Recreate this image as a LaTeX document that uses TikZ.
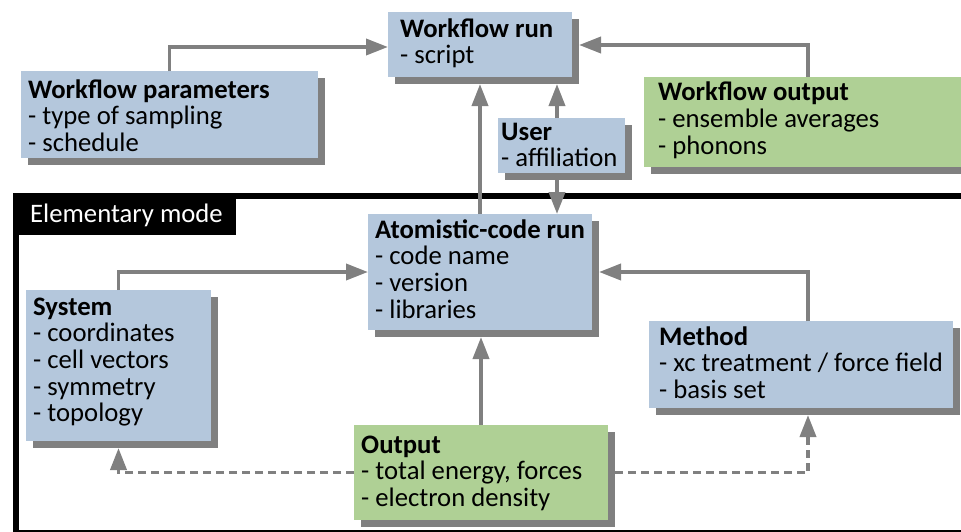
\documentclass[tikz,border=0pt]{standalone}
\usepackage{fontspec}
\setmainfont{Carlito}
\usetikzlibrary{arrows.meta,shadows}
\definecolor{boxblue}{HTML}{B4C7DC}
\definecolor{boxgreen}{HTML}{AFD095}
\definecolor{shgray}{HTML}{808080}
\definecolor{arrgray}{HTML}{808080}
\begin{document}
\begin{tikzpicture}[x=1pt,y=-1pt,
  box/.style={anchor=north west, inner sep=0pt, outer sep=0pt, draw=none, fill=boxblue,
    drop shadow={shadow xshift=7pt, shadow yshift=-7pt, fill=shgray, opacity=1}},
  gbox/.style={box, fill=boxgreen},
  txt/.style={anchor=base west, inner sep=0pt, align=left, font=\fontsize{26.7}{26.7}\selectfont},
  arr/.style={draw=arrgray, line width=3.7pt, -{Triangle[length=22pt,width=16pt]}},
  dsh/.style={arr, dash pattern=on 8pt off 5pt},
]
\useasboundingbox (0,0) rectangle (961,531);
\clip (0,0) rectangle (961,531);

% frame of elementary mode
\draw[line width=6pt] (16,196) rectangle (966,533);
\node[fill=black, anchor=north west, inner sep=0pt, minimum width=223pt, minimum height=42pt] (emlab) at (13,193) {};
\node[txt, text=white] (emtxt) at (30,222) {Elementary mode};

% boxes (text nodes are anchored at the baseline of their last line)
\node[box, minimum width=184pt, minimum height=65pt] (wr) at (388,12) {};
\node[txt] (wrt) at (400,63.7) {\textbf{Workflow run}\\- script};

\node[box, minimum width=297pt, minimum height=87pt] (wp) at (21,71) {};
\node[txt] (wpt) at (28,151.4) {\textbf{Workflow parameters}\\- type of sampling\\- schedule};

\node[box, minimum width=127pt, minimum height=55pt] (usr) at (498,118) {};
\node[txt] (usrt) at (501,166.7) {\textbf{User}\\- affiliation};

\node[gbox, minimum width=328pt, minimum height=90pt] (wo) at (644,77) {};
\node[txt] (wot) at (658,154) {\textbf{Workflow output}\\- ensemble averages\\- phonons};

\node[box, minimum width=224pt, minimum height=116pt] (at) at (368,214) {};
\node[txt] (att) at (375,318.1) {\textbf{Atomistic-code run}\\- code name\\- version\\- libraries};

\node[box, minimum width=185pt, minimum height=151pt] (sys) at (26,290) {};
\node[txt] (syst) at (33,421.8) {\textbf{System}\\- coordinates\\- cell vectors\\- symmetry\\- topology};

\node[box, minimum width=304pt, minimum height=87pt] (met) at (649,321) {};
\node[txt] (mett) at (659,398.4) {\textbf{Method}\\- xc treatment / force field\\- basis set};

\node[gbox, minimum width=254pt, minimum height=95pt] (out) at (354,425) {};
\node[txt] (outt) at (361,506.6) {\textbf{Output}\\- total energy, forces\\- electron density};

% connectors
\draw[arr] (wp.north) |- (wr.west |- 0,47);
\draw[arr, shorten >=7pt] (wo.north) |- (wr.east |- 0,45);
\draw[arr, shorten >=7pt] (usr.north -| 557,0) -- (wr.south -| 557,0);
\draw[arr, shorten <=7pt] (usr.south -| 557,0) -- (at.north -| 557,0);
\draw[arr, shorten >=7pt] (at.north) -- (wr.south);
\draw[arr] (sys.north) |- (at.west);
\draw[arr, shorten >=7pt] (met.north -| 808,0) |- (at.east);
\draw[arr, shorten >=7pt] (out.north) -- (out.north |- at.south);
\draw[dsh, shorten >=7pt] (out.west) -| (sys.south);
\draw[dsh, shorten >=7pt, shorten <=7pt] (out.east) -| (met.south -| 808,0);
\end{tikzpicture}
\end{document}
